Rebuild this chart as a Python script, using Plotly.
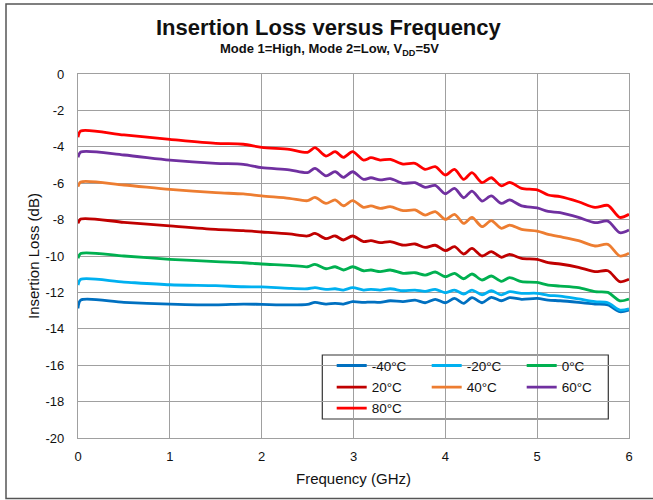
import plotly.graph_objects as go

freq_ghz = [0.0, 0.03, 0.5, 1.0, 1.5, 1.8, 2.0, 2.3, 2.5, 2.58, 2.70, 2.80, 2.89, 2.99,
            3.11, 3.19, 3.29, 3.40, 3.54, 3.67, 3.78, 3.89, 4.0, 4.10, 4.20, 4.29, 4.40,
            4.50, 4.61, 4.70, 4.83, 5.0, 5.12, 5.25, 5.45, 5.63, 5.77, 5.90, 6.0]

il_m40 = [-12.88, -12.42, -12.55, -12.64, -12.69, -12.64, -12.66, -12.69, -12.66, -12.55,
          -12.64, -12.60, -12.64, -12.51, -12.55, -12.53, -12.55, -12.46, -12.51, -12.42,
          -12.57, -12.38, -12.57, -12.33, -12.60, -12.29, -12.57, -12.27, -12.46, -12.29,
          -12.38, -12.33, -12.42, -12.46, -12.55, -12.64, -12.69, -13.06, -12.97]
il_m20 = [-11.60, -11.28, -11.43, -11.58, -11.63, -11.69, -11.70, -11.78, -11.80, -11.74,
          -11.83, -11.80, -11.87, -11.74, -11.87, -11.83, -11.87, -11.80, -11.91, -11.87,
          -11.94, -11.83, -12.02, -11.87, -12.09, -11.87, -12.13, -11.91, -12.14, -11.96,
          -12.05, -12.05, -12.16, -12.20, -12.36, -12.51, -12.57, -12.97, -12.90]
il_0 = [-10.13, -9.86, -10.00, -10.18, -10.31, -10.37, -10.44, -10.51, -10.59, -10.46,
        -10.70, -10.59, -10.77, -10.59, -10.81, -10.77, -10.86, -10.77, -10.95, -10.92,
        -11.05, -10.88, -11.14, -10.95, -11.25, -10.99, -11.32, -11.10, -11.39, -11.19,
        -11.41, -11.45, -11.60, -11.65, -11.74, -11.96, -12.00, -12.46, -12.36]
il_20 = [-8.21, -7.97, -8.15, -8.35, -8.54, -8.61, -8.68, -8.79, -8.90, -8.76,
         -9.05, -8.90, -9.12, -8.90, -9.21, -9.16, -9.27, -9.21, -9.40, -9.34,
         -9.53, -9.41, -9.71, -9.49, -9.89, -9.58, -10.00, -9.76, -10.07, -9.91,
         -10.13, -10.18, -10.37, -10.44, -10.62, -10.86, -10.81, -11.41, -11.28]
il_40 = [-6.19, -5.93, -6.10, -6.34, -6.52, -6.59, -6.70, -6.83, -6.96, -6.78,
         -7.11, -6.92, -7.24, -6.96, -7.33, -7.25, -7.38, -7.29, -7.51, -7.47,
         -7.75, -7.56, -7.99, -7.71, -8.21, -7.88, -8.39, -8.06, -8.48, -8.30,
         -8.54, -8.63, -8.81, -8.94, -9.16, -9.45, -9.36, -10.00, -9.85]
il_60 = [-4.58, -4.29, -4.45, -4.73, -4.91, -4.96, -5.15, -5.27, -5.42, -5.18,
         -5.60, -5.37, -5.68, -5.37, -5.79, -5.70, -5.82, -5.75, -6.01, -5.97,
         -6.23, -6.12, -6.58, -6.28, -6.80, -6.43, -6.98, -6.70, -7.11, -6.92,
         -7.25, -7.36, -7.55, -7.62, -7.88, -8.17, -8.08, -8.72, -8.57]
il_80 = [-3.48, -3.13, -3.35, -3.59, -3.81, -3.86, -4.03, -4.14, -4.30, -4.05,
         -4.51, -4.27, -4.58, -4.27, -4.73, -4.60, -4.73, -4.69, -4.95, -4.91,
         -5.24, -5.09, -5.55, -5.24, -5.79, -5.42, -5.97, -5.70, -6.15, -5.95,
         -6.28, -6.37, -6.65, -6.74, -7.02, -7.33, -7.22, -7.88, -7.71]

series_names = ["-40°C", "-20°C", "0°C", "20°C", "40°C", "60°C", "80°C"]
series_values = [il_m40, il_m20, il_0, il_20, il_40, il_60, il_80]
series_colors = ["#0070C0", "#00B0F0", "#00B050", "#C00000", "#ED7D31", "#7030A0", "#FF0000"]
legend_ids = ["legend", "legend", "legend", "legend2", "legend2", "legend2", "legend3"]

x_ticks = [0, 1, 2, 3, 4, 5, 6]
y_ticks = [0, -2, -4, -6, -8, -10, -12, -14, -16, -18, -20]

FONT = "Liberation Sans, Arial, sans-serif"

fig = go.Figure()
for name, vals, col, lg in zip(series_names, series_values, series_colors, legend_ids):
    fig.add_trace(go.Scatter(
        x=freq_ghz, y=vals, name=name, mode="lines",
        line=dict(color=col, width=2.8, shape="spline", smoothing=0.8),
        legend=lg,
    ))

W, H = 653, 500
L, R, T, B = 78, 24, 74, 62
pw, ph = W - L - R, H - T - B

def px_x(px):
    return (px - L) / pw

def px_y(py):
    return (H - B - py) / ph

leg_common = dict(orientation="h", xanchor="left", yanchor="middle",
                  font=dict(family=FONT, size=13.5, color="#111"),
                  bgcolor="rgba(0,0,0,0)", borderwidth=0,
                  entrywidth=50, entrywidthmode="pixels", itemwidth=30,
                  tracegroupgap=0)

fig.update_layout(
    width=W, height=H,
    margin=dict(l=L, r=R, t=T, b=B),
    paper_bgcolor="white", plot_bgcolor="white",
    font=dict(family=FONT, size=13, color="#111"),
    showlegend=True,
    legend=dict(x=px_x(331.7), y=px_y(365.7), **leg_common),
    legend2=dict(x=px_x(331.7), y=px_y(387.3), **leg_common),
    legend3=dict(x=px_x(331.7), y=px_y(408.3), **leg_common),
    xaxis=dict(range=[0, 6], tickvals=x_ticks, ticktext=[str(v) for v in x_ticks],
               showgrid=True, gridcolor="#a0a0a0", gridwidth=1.2,
               showline=True, linecolor="#a0a0a0", linewidth=1.2, mirror=True,
               ticks="", zeroline=False, ticklabelstandoff=6,
               tickfont=dict(family=FONT, size=13, color="#111")),
    yaxis=dict(range=[-20, 0], tickvals=y_ticks, ticktext=[str(v) for v in y_ticks],
               showgrid=True, gridcolor="#a0a0a0", gridwidth=1.2,
               showline=True, linecolor="#a0a0a0", linewidth=1.2, mirror=True,
               ticks="", zeroline=False, ticklabelstandoff=10,
               tickfont=dict(family=FONT, size=13, color="#111")),
    shapes=[
        dict(type="rect", xref="paper", yref="paper",
             x0=px_x(322.3), x1=px_x(608.3), y0=px_y(419), y1=px_y(355),
             line=dict(color="#333", width=1.2), fillcolor="white", layer="between"),
        dict(type="rect", xref="paper", yref="paper",
             x0=px_x(6), x1=px_x(665), y0=px_y(498.5), y1=px_y(4),
             line=dict(color="#555", width=1.5), fillcolor="rgba(0,0,0,0)", layer="above"),
    ],
    annotations=[
        dict(text="<b>Insertion Loss versus Frequency</b>", xref="paper", yref="paper",
             x=px_x(329), y=px_y(27), xanchor="center", yanchor="middle", showarrow=False,
             font=dict(family=FONT, size=22, color="#111")),
        dict(text="<b>Mode 1=High, Mode 2=Low, V<sub>DD</sub>=5V</b>", xref="paper", yref="paper",
             x=px_x(329), y=px_y(49), xanchor="center", yanchor="middle", showarrow=False,
             font=dict(family=FONT, size=13, color="#111")),
        dict(text="Frequency (GHz)", xref="paper", yref="paper",
             x=px_x(353), y=px_y(478), xanchor="center", yanchor="middle", showarrow=False,
             font=dict(family=FONT, size=15, color="#111")),
        dict(text="Insertion Loss (dB)", xref="paper", yref="paper", textangle=-90,
             x=px_x(33), y=px_y(256), xanchor="center", yanchor="middle", showarrow=False,
             font=dict(family=FONT, size=15, color="#111")),
    ],
)

fig.write_html("out.html", config={"displayModeBar": False},
               post_script="document.body.style.margin='0';document.body.style.padding='0';")
